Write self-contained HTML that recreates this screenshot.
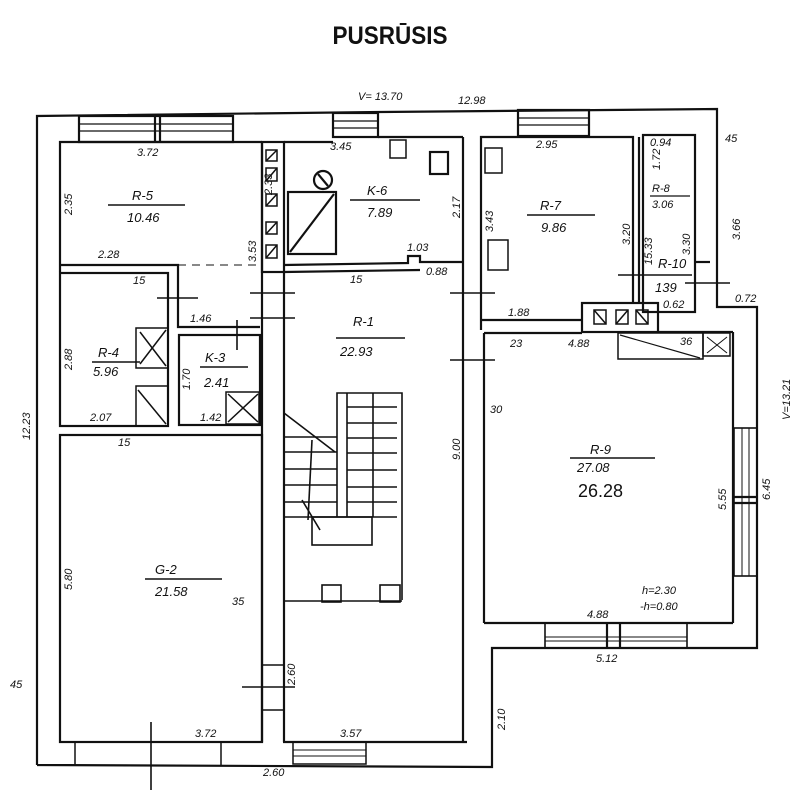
<!DOCTYPE html>
<html><head><meta charset="utf-8"><style>
body{margin:0;background:#fff}
svg{display:block}
text{font-family:"Liberation Sans",sans-serif;font-style:italic;fill:#111}
.t{font-size:13px}
.s{font-size:11px}
</style></head><body>
<svg width="800" height="800" viewBox="0 0 800 800" xmlns="http://www.w3.org/2000/svg">
<rect width="800" height="800" fill="#fff"/>
<text x="390" y="44" text-anchor="middle" style="font-style:normal;font-weight:bold;font-size:25px" transform="translate(390 0) scale(0.9 1) translate(-390 0)">PUSRŪSIS</text>
<g stroke="#111" stroke-width="2.2" fill="none">
<!-- outer -->
<polyline points="37,765 37,116 380,112 717,109 717,307 757,307 757,648 492,648 492,767 37,765"/>
<!-- top windows -->
<rect x="79" y="116" width="154" height="26"/>
<line x1="79" y1="124" x2="233" y2="124" stroke-width="1.2"/><line x1="79" y1="131" x2="233" y2="131" stroke-width="1.2"/>
<line x1="155" y1="116" x2="155" y2="142"/><line x1="160" y1="116" x2="160" y2="142"/>
<rect x="333" y="113" width="45" height="24"/>
<line x1="333" y1="121" x2="378" y2="121" stroke-width="1.2"/><line x1="333" y1="128" x2="378" y2="128" stroke-width="1.2"/>
<rect x="518" y="110" width="71" height="26"/>
<line x1="518" y1="118" x2="589" y2="118" stroke-width="1.2"/><line x1="518" y1="125" x2="589" y2="125" stroke-width="1.2"/>
<!-- R-5 -->
<polyline points="60,272 60,142 262,142"/>
<polyline points="60,265 178,265 178,327 260,327"/>
<line x1="262" y1="142" x2="262" y2="272"/>
<!-- chimney column -->
<rect x="262" y="142" width="22" height="130"/>
<g stroke-width="1.5">
<rect x="266" y="150" width="11" height="11"/><rect x="266" y="168" width="11" height="13"/><rect x="266" y="194" width="11" height="12"/><rect x="266" y="222" width="11" height="12"/><rect x="266" y="245" width="11" height="13"/>
<line x1="266" y1="161" x2="277" y2="150"/><line x1="266" y1="181" x2="277" y2="168"/><line x1="266" y1="206" x2="277" y2="194"/><line x1="266" y1="234" x2="277" y2="222"/><line x1="266" y1="258" x2="277" y2="245"/>
</g>
<line x1="178" y1="265" x2="262" y2="265" stroke-width="1" stroke-dasharray="8 6"/>
<!-- K-6 -->
<line x1="284" y1="142" x2="333" y2="142"/><line x1="378" y1="137" x2="463" y2="137"/>
<line x1="463" y1="137" x2="463" y2="270"/>
<polyline points="284,265 408,263 408,256 420,256 420,262 463,262"/>
<line x1="284" y1="272" x2="420" y2="270"/>
<rect x="288" y="192" width="48" height="62"/><line x1="290" y1="252" x2="334" y2="194"/>
<circle cx="323" cy="180" r="9"/><line x1="318" y1="174" x2="328" y2="186"/>
<rect x="430" y="152" width="18" height="22"/><rect x="390" y="140" width="16" height="18" stroke-width="1.5"/>
<!-- R-1 walls -->
<line x1="284" y1="272" x2="284" y2="742"/>
<line x1="262" y1="272" x2="262" y2="742"/>
<line x1="463" y1="270" x2="463" y2="742"/>
<line x1="481" y1="270" x2="481" y2="330"/>
<line x1="283" y1="742" x2="467" y2="742"/>
<rect x="293" y="742" width="73" height="22" stroke-width="1.5"/>
<line x1="293" y1="750" x2="366" y2="750" stroke-width="1"/><line x1="293" y1="756" x2="366" y2="756" stroke-width="1"/>
<!-- door ticks -->
<g stroke-width="1.6">
<line x1="250" y1="293" x2="295" y2="293"/><line x1="250" y1="318" x2="295" y2="318"/>
<line x1="450" y1="293" x2="495" y2="293"/><line x1="450" y1="360" x2="495" y2="360"/>
<line x1="157" y1="298" x2="198" y2="298"/><line x1="237" y1="320" x2="237" y2="350"/><line x1="220" y1="335" x2="255" y2="335"/>
<line x1="242" y1="687" x2="295" y2="687"/><line x1="262" y1="665" x2="284" y2="665"/><line x1="262" y1="710" x2="284" y2="710"/>
<line x1="151" y1="722" x2="151" y2="790"/>
</g>
<!-- R-4, K-3 -->
<rect x="60" y="273" width="108" height="153"/>
<rect x="179" y="335" width="81" height="90"/>
<g stroke-width="1.5">
<rect x="136" y="328" width="32" height="40"/><line x1="140" y1="364" x2="166" y2="330"/><line x1="140" y1="332" x2="166" y2="366"/>
<rect x="136" y="386" width="32" height="40"/><line x1="138" y1="390" x2="166" y2="424"/>
<rect x="226" y="392" width="33" height="32"/><line x1="228" y1="394" x2="258" y2="422"/><line x1="228" y1="422" x2="258" y2="394"/>
</g>
<!-- G-2 -->
<rect x="60" y="435" width="202" height="307"/>
<line x1="75" y1="742" x2="75" y2="765" stroke-width="1.5"/><line x1="221" y1="742" x2="221" y2="765" stroke-width="1.5"/>
<!-- stairs -->
<g stroke-width="1.6">
<polyline points="337,517 337,393 402,393 402,600"/>
<line x1="347" y1="393" x2="347" y2="517"/>
<line x1="373" y1="393" x2="373" y2="517"/>
<line x1="284" y1="517" x2="397" y2="517"/>
<line x1="284" y1="413" x2="335" y2="452"/>
<line x1="284" y1="437" x2="337" y2="437"/><line x1="284" y1="452" x2="337" y2="452"/><line x1="284" y1="469" x2="337" y2="469"/><line x1="284" y1="485" x2="337" y2="485"/><line x1="284" y1="502" x2="337" y2="502"/>
<line x1="347" y1="407" x2="397" y2="407"/><line x1="347" y1="423" x2="397" y2="423"/><line x1="347" y1="438" x2="397" y2="438"/><line x1="347" y1="453" x2="397" y2="453"/><line x1="347" y1="470" x2="397" y2="470"/><line x1="347" y1="487" x2="397" y2="487"/><line x1="347" y1="502" x2="397" y2="502"/>
<rect x="312" y="517" width="60" height="28"/>
<line x1="312" y1="440" x2="308" y2="520"/><line x1="302" y1="500" x2="320" y2="530"/>
<line x1="284" y1="601" x2="402" y2="601"/>
<rect x="322" y="585" width="19" height="17"/><rect x="380" y="585" width="20" height="17"/>
</g>
<!-- R-7 -->
<polyline points="481,270 481,137 633,137 633,303"/>
<line x1="481" y1="320" x2="582" y2="320"/>
<rect x="485" y="148" width="17" height="25" stroke-width="1.5"/>
<rect x="488" y="240" width="20" height="30" stroke-width="1.5"/>
<!-- R-8 -->
<rect x="643" y="135" width="52" height="177"/>
<line x1="639" y1="137" x2="639" y2="303"/>
<line x1="618" y1="275" x2="692" y2="275" stroke-width="1.6"/>
<line x1="695" y1="262" x2="710" y2="262"/><line x1="685" y1="283" x2="730" y2="283" stroke-width="1.5"/>
<!-- chimney box -->
<rect x="582" y="303" width="76" height="29"/>
<g stroke-width="1.5"><rect x="594" y="310" width="12" height="14"/><rect x="616" y="310" width="12" height="14"/><rect x="636" y="310" width="12" height="14"/>
<line x1="594" y1="310" x2="606" y2="324"/><line x1="616" y1="324" x2="628" y2="310"/><line x1="636" y1="310" x2="648" y2="324"/></g>
<!-- R-9 -->
<polyline points="484,333 582,333"/><line x1="658" y1="332" x2="733" y2="332"/>
<line x1="484" y1="333" x2="484" y2="623"/>
<line x1="733" y1="332" x2="733" y2="623"/>
<line x1="484" y1="623" x2="733" y2="623"/>
<rect x="618" y="333" width="85" height="26" stroke-width="1.5"/><line x1="620" y1="335" x2="700" y2="358" stroke-width="1.2"/>
<rect x="703" y="333" width="27" height="23" stroke-width="1.5"/><line x1="707" y1="337" x2="727" y2="353" stroke-width="1"/><line x1="707" y1="353" x2="727" y2="337" stroke-width="1"/>
<rect x="734" y="428" width="23" height="148" stroke-width="1.6"/>
<line x1="742" y1="428" x2="742" y2="576" stroke-width="1"/><line x1="749" y1="428" x2="749" y2="576" stroke-width="1"/>
<line x1="734" y1="497" x2="757" y2="497"/><line x1="734" y1="503" x2="757" y2="503"/>
<rect x="545" y="623" width="142" height="25" stroke-width="1.6"/>
<line x1="545" y1="637" x2="687" y2="637" stroke-width="1"/><line x1="545" y1="641" x2="687" y2="641" stroke-width="1"/>
<line x1="607" y1="623" x2="607" y2="648"/><line x1="620" y1="623" x2="620" y2="648"/>
</g>
<!-- labels -->
<g class="t">
<text x="132" y="200">R-5</text><line x1="108" y1="205" x2="185" y2="205" stroke="#111" stroke-width="1.4"/><text x="127" y="222">10.46</text>
<text x="367" y="195">K-6</text><line x1="350" y1="200" x2="420" y2="200" stroke="#111" stroke-width="1.4"/><text x="367" y="217">7.89</text>
<text x="540" y="210">R-7</text><line x1="527" y1="215" x2="595" y2="215" stroke="#111" stroke-width="1.4"/><text x="541" y="232">9.86</text>
<text x="652" y="192" class="s">R-8</text><line x1="650" y1="196" x2="690" y2="196" stroke="#111" stroke-width="1.2"/><text x="652" y="208" class="s">3.06</text>
<text x="658" y="268">R-10</text><text x="655" y="292">139</text>
<text x="353" y="326">R-1</text><line x1="336" y1="338" x2="405" y2="338" stroke="#111" stroke-width="1.4"/><text x="340" y="356">22.93</text>
<text x="98" y="357">R-4</text><line x1="92" y1="362" x2="140" y2="362" stroke="#111" stroke-width="1.4"/><text x="93" y="376">5.96</text>
<text x="205" y="362">K-3</text><line x1="200" y1="367" x2="248" y2="367" stroke="#111" stroke-width="1.4"/><text x="204" y="387">2.41</text>
<text x="155" y="574">G-2</text><line x1="145" y1="579" x2="222" y2="579" stroke="#111" stroke-width="1.4"/><text x="155" y="596">21.58</text>
<text x="590" y="454">R-9</text><line x1="570" y1="458" x2="655" y2="458" stroke="#111" stroke-width="1.4"/><text x="577" y="472">27.08</text>
<text x="578" y="497" style="font-size:18px;font-style:normal">26.28</text>
<text x="642" y="594" class="s">h=2.30</text><text x="640" y="610" class="s">-h=0.80</text>
</g>
<g class="s">
<text x="358" y="100">V= 13.70</text><text x="458" y="104">12.98</text>
<text x="137" y="156">3.72</text><text x="330" y="150">3.45</text><text x="536" y="148">2.95</text><text x="650" y="146">0.94</text>
<text x="98" y="258">2.28</text><text x="133" y="284">15</text><text x="350" y="283">15</text><text x="407" y="251">1.03</text><text x="426" y="275">0.88</text>
<text x="508" y="316">1.88</text><text x="190" y="322">1.46</text><text x="510" y="347">23</text><text x="568" y="347">4.88</text><text x="680" y="345">36</text>
<text x="735" y="302">0.72</text><text x="663" y="308">0.62</text>
<text x="90" y="421">2.07</text><text x="200" y="421">1.42</text><text x="118" y="446">15</text>
<text x="490" y="413">30</text><text x="232" y="605">35</text>
<text x="195" y="737">3.72</text><text x="340" y="737">3.57</text><text x="263" y="776">2.60</text><text x="587" y="618">4.88</text><text x="596" y="662">5.12</text>
<text x="10" y="688">45</text><text x="725" y="142">45</text>
</g>
<g class="s">
<text transform="translate(72 215) rotate(-90)">2.35</text>
<text transform="translate(272 195) rotate(-90)">2.33</text>
<text transform="translate(256 262) rotate(-90)">3.53</text>
<text transform="translate(460 218) rotate(-90)">2.17</text>
<text transform="translate(493 232) rotate(-90)">3.43</text>
<text transform="translate(630 245) rotate(-90)">3.20</text>
<text transform="translate(652 265) rotate(-90)">15.33</text>
<text transform="translate(690 255) rotate(-90)">3.30</text>
<text transform="translate(660 170) rotate(-90)">1.72</text>
<text transform="translate(740 240) rotate(-90)">3.66</text>
<text transform="translate(72 370) rotate(-90)">2.88</text>
<text transform="translate(190 390) rotate(-90)">1.70</text>
<text transform="translate(30 440) rotate(-90)">12.23</text>
<text transform="translate(72 590) rotate(-90)">5.80</text>
<text transform="translate(460 460) rotate(-90)">9.00</text>
<text transform="translate(295 685) rotate(-90)">2.60</text>
<text transform="translate(505 730) rotate(-90)">2.10</text>
<text transform="translate(726 510) rotate(-90)">5.55</text>
<text transform="translate(770 500) rotate(-90)">6.45</text>
<text transform="translate(790 420) rotate(-90)">V=13.21</text>
</g>
</svg>
</body></html>
